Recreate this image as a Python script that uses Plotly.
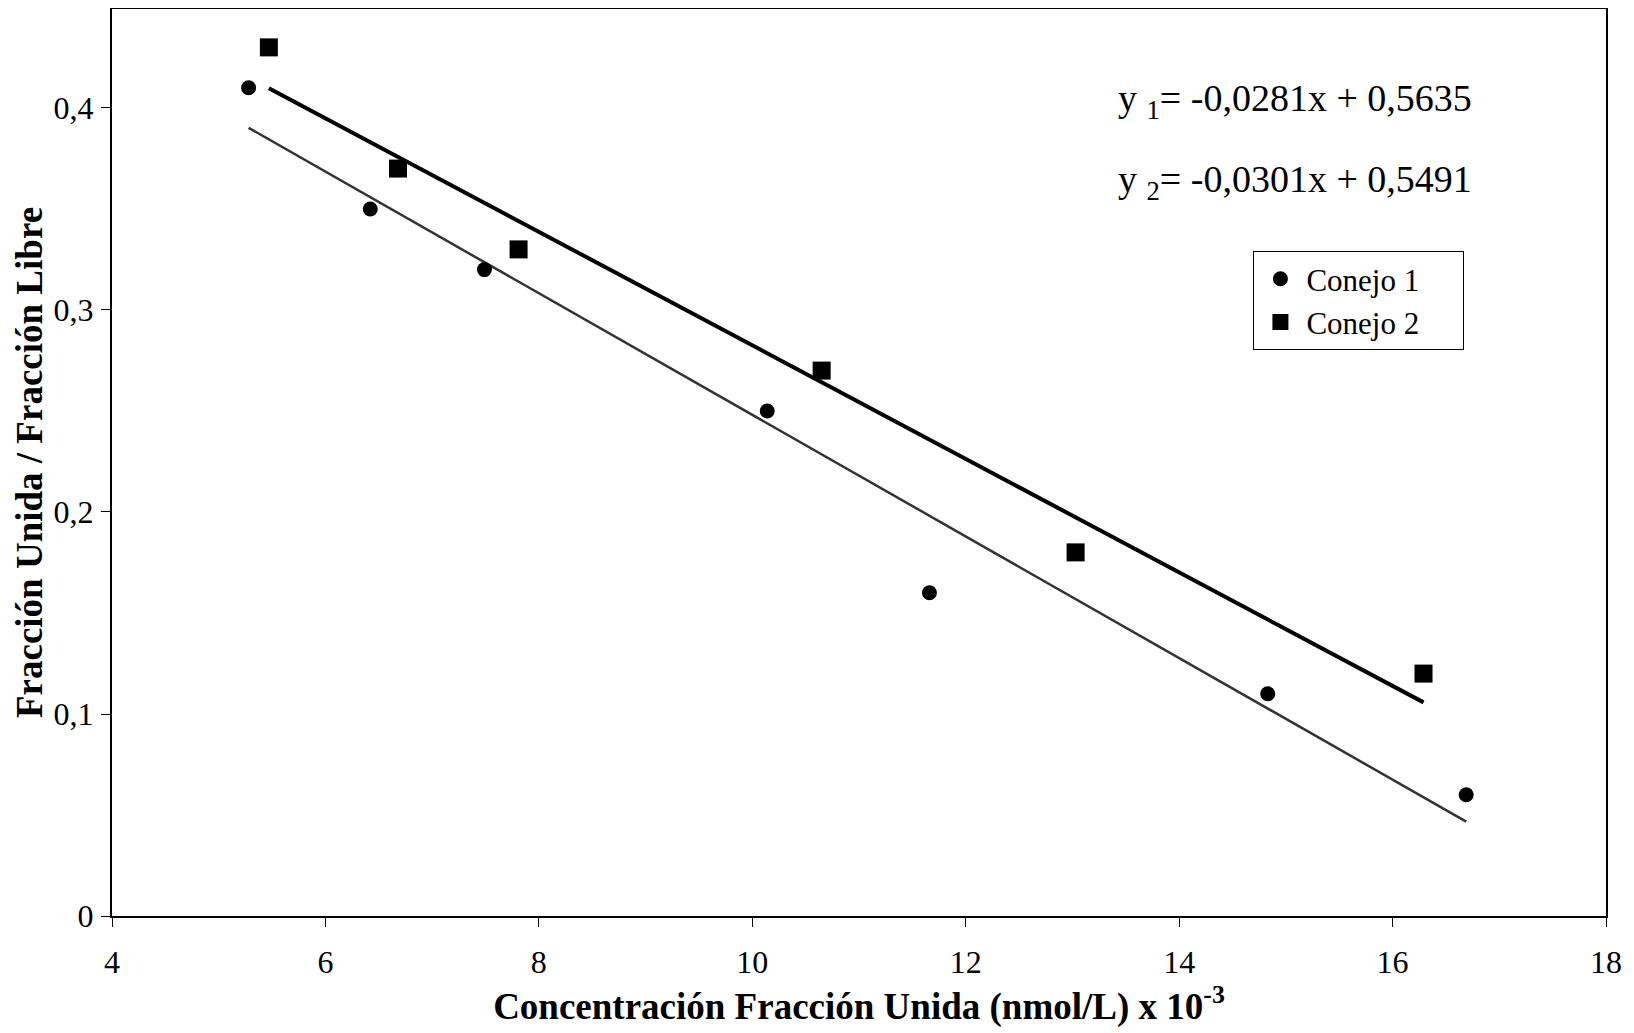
import plotly.graph_objects as go

# ---- data ----
conejo1_x = [5.28, 6.42, 7.49, 10.14, 11.66, 14.83, 16.69]
conejo1_y = [0.41, 0.35, 0.32, 0.25, 0.16, 0.11, 0.06]
conejo2_x = [5.47, 6.68, 7.81, 10.65, 13.03, 16.29]
conejo2_y = [0.43, 0.37, 0.33, 0.27, 0.18, 0.12]

# regression equations printed on the chart
eq1_slope, eq1_intercept = -0.0281, 0.5635   # thick line (through squares)
eq2_slope, eq2_intercept = -0.0301, 0.5491   # thin line (through circles)

series_names = ["Conejo 1", "Conejo 2"]
x_ticks = [4, 6, 8, 10, 12, 14, 16, 18]
y_ticks = [0, 0.1, 0.2, 0.3, 0.4]

FONT = "Liberation Serif"
PAD = "\u00a0" * 5


def fmt(v):
    return f"{v:.4f}".replace(".", ",")


def line_pts(xs, m, b):
    x0, x1 = min(xs), max(xs)
    return [x0, x1], [m * x0 + b, m * x1 + b]


fig = go.Figure()

lx2, ly2 = line_pts(conejo1_x, eq2_slope, eq2_intercept)
fig.add_trace(go.Scatter(x=lx2, y=ly2, mode="lines", showlegend=False,
                         line=dict(color="#333333", width=2.5), hoverinfo="skip"))
lx1, ly1 = line_pts(conejo2_x, eq1_slope, eq1_intercept)
fig.add_trace(go.Scatter(x=lx1, y=ly1, mode="lines", showlegend=False,
                         line=dict(color="black", width=4), hoverinfo="skip"))

fig.add_trace(go.Scatter(x=conejo1_x, y=conejo1_y, mode="markers", name=series_names[0] + PAD,
                         marker=dict(symbol="circle", size=15, color="black")))
fig.add_trace(go.Scatter(x=conejo2_x, y=conejo2_y, mode="markers", name=series_names[1] + PAD,
                         marker=dict(symbol="square", size=18, color="black")))

fig.add_annotation(xref="paper", yref="paper", x=0.672, y=0.899, xanchor="left", yanchor="middle",
                   text=f"y <sub>1</sub>= {fmt(eq1_slope)}x + {fmt(eq1_intercept)}",
                   showarrow=False, font=dict(family=FONT, size=38, color="black"))
fig.add_annotation(xref="paper", yref="paper", x=0.672, y=0.809, xanchor="left", yanchor="middle",
                   text=f"y <sub>2</sub>= {fmt(eq2_slope)}x + {fmt(eq2_intercept)}",
                   showarrow=False, font=dict(family=FONT, size=38, color="black"))

# the page body adds an 8px offset; the figure is sized to fit the window from there
fig.update_layout(
    width=1626, height=1025,
    margin=dict(l=104, r=28, t=1, b=117),
    paper_bgcolor="white", plot_bgcolor="white",
    separators=",.",
    font=dict(family=FONT, size=32, color="black"),
    legend=dict(x=0.764, y=0.733, xanchor="left", yanchor="top",
                bgcolor="white", bordercolor="black", borderwidth=1,
                font=dict(family=FONT, size=31, color="black"),
                itemwidth=42),
    xaxis=dict(range=[4, 18], tickvals=x_ticks, showgrid=False, zeroline=False,
               showline=True, linecolor="black", linewidth=2, mirror=True,
               ticks="outside", ticklen=9, tickcolor="black", tickwidth=1,
               ticklabelstandoff=8, automargin=False,
               title=dict(text="Concentración Fracción Unida (nmol/L) x 10<sup>-3</sup>",
                          font=dict(family=FONT, size=37, color="black", weight="bold"),
                          standoff=4)),
    yaxis=dict(range=[0, 0.449], tickvals=y_ticks, showgrid=False, zeroline=False,
               showline=True, linecolor="black", linewidth=2, mirror=True,
               ticks="outside", ticklen=9, tickcolor="black", tickwidth=1,
               ticklabelstandoff=1, automargin=False,
               title=dict(text="Fracción Unida / Fracción Libre",
                          font=dict(family=FONT, size=37, color="black", weight="bold"),
                          standoff=0)),
)

fig.write_html("out.html")
